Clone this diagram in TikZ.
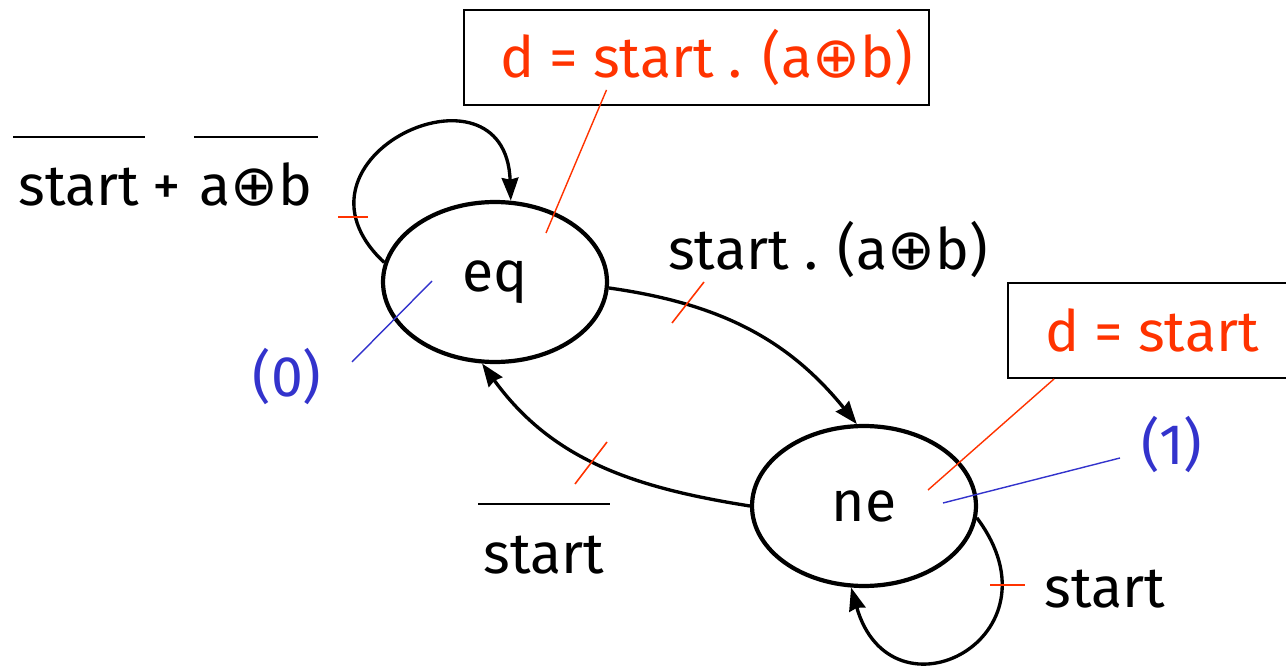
\documentclass[tikz,border=0pt]{standalone}
\usepackage{fontspec}
\setmainfont{Fira Sans}
\newfontfamily\symfont{DejaVu Sans}
\usetikzlibrary{arrows.meta,calc,shapes.geometric}
\definecolor{notered}{HTML}{FF3300}
\definecolor{noteblue}{HTML}{3333CC}
\newcommand{\xorsym}{{\symfont ⊕}}

\begin{document}
\begin{tikzpicture}[x=0.02cm, y=0.02cm, font=\fontsize{32.5}{39}\selectfont,
  state/.style={draw, ellipse, line width=2.4pt, minimum width=4.48cm, minimum height=3.2cm, inner sep=0pt},
  edge/.style={line width=1.9pt, -{Stealth[length=13pt, width=9.5pt, inset=1pt]}},
  notebox/.style={draw, line width=1.1pt, minimum height=1.9cm, text=notered, inner sep=0pt},
  callout/.style={notered, line width=0.8pt},
  outlink/.style={noteblue, line width=0.8pt},
  tick/.style={notered, line width=0.9pt},
  bar/.style={line width=1.1pt},
  lbl/.style={anchor=base, inner xsep=3pt, inner ysep=0pt, text height=39pt, text depth=0pt}]
  \useasboundingbox (0,0) rectangle (1286,667);

  % States
  \node[state] (eq) at (495,385) {eq};
  \node[state] (ne) at (864,161) {ne};

  % Output notes
  \node[notebox, minimum width=9.3cm] (dbox1) at (696.5,609.5) {\hspace*{0.4cm}d = start . (a\xorsym b)};
  \node[notebox, minimum width=5.76cm] (dbox2) at (1152,336.5) {d = start};
  \node[text=noteblue] (out0) at (287,290) {(0)};
  \node[text=noteblue] (out1) at (1172,222) {(1)};

  % Callout lines
  \draw[callout] ($(dbox1.south)+(-90,16)$) -- ($(eq.center)+(51,49)$);
  \draw[callout] ($(dbox2.south west)+(47,0)$) -- ($(ne.center)+(64,16)$);
  \coordinate (out0end) at (352,305);
  \coordinate (out1end) at (1120,209);
  \draw[outlink] ($(eq.center)+(-63,1)$) -- (out0end);
  \draw[outlink] ($(ne.center)+(79,3)$) -- (out1end);

  % Transitions
  \draw[edge] (eq.170) .. controls +(-112,105) and +(-5,150) .. (eq.79);
  \draw[edge] (eq.-3) to[out=-8, in=129] (ne.95);
  \draw[edge] (ne.180) to[out=171, in=-54] (eq.261);
  \draw[edge] (ne.-6) .. controls +(90,-120) and +(40,-140) .. (ne.261);

  % Ticks on the transitions
  \draw[tick] (338,450) -- (368,450);
  \draw[tick] (672,344) -- (704,385);
  \draw[tick] (575,183) -- (607,225);
  \draw[tick] (990,82) -- (1025,82);

  % Transition labels
  \node[lbl] (notstart) at (79,461) {start};
  \node[lbl] (plus) at (167,461) {+};
  \node[lbl] (notxor) at (256,461) {a\xorsym b};
  \draw[bar] (notstart.north west) -- (notstart.north east);
  \draw[bar] (notxor.north west) -- (notxor.north east);
  \node[lbl] (golbl) at (828,397) {start . (a\xorsym b)};
  \node[lbl] (backlbl) at (544,94) {start};
  \draw[bar] (backlbl.north west) -- (backlbl.north east);
  \node[lbl] (staylbl) at (1105,60) {start};

\end{tikzpicture}
\end{document}
